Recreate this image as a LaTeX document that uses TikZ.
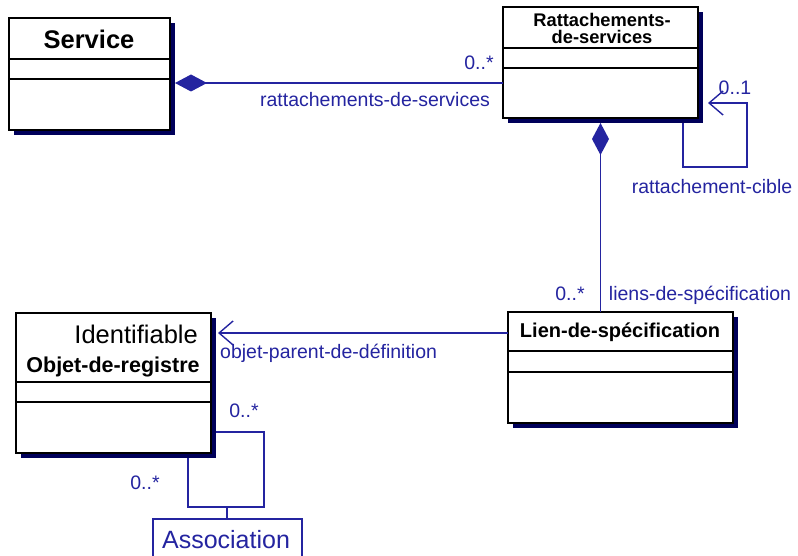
\documentclass[tikz,border=0pt]{standalone}
\usepackage{fontspec}
\setmainfont{Liberation Sans}
\usetikzlibrary{arrows.meta,shadows}
\definecolor{umlblue}{HTML}{2424A0}
\definecolor{umlshadow}{HTML}{00005A}
\tikzset{
  classbox/.style={draw=black,line width=1.8pt,fill=white,inner sep=0pt,outer sep=0pt,
    anchor=north west,
    drop shadow={shadow xshift=5pt,shadow yshift=-5pt,fill=umlshadow,opacity=1}},
  sep/.style={draw=black,line width=1.8pt},
  link/.style={draw=umlblue,line width=1.8pt},
  comp/.style={link,{Diamond[length=32pt,width=17pt,fill=umlblue]}-},
  nav/.style={link,-{Straight Barb[length=14pt,width=24pt,line width=1.4pt]}},
  lbl/.style={text=umlblue,inner sep=0pt,font=\fontsize{19.5}{22}\selectfont},
  ttl/.style={text=black,inner sep=0pt,align=center,font=\bfseries\fontsize{20}{17}\selectfont},
}
\begin{document}
\begin{tikzpicture}[x=1pt,y=-1pt]
\clip (0,0) rectangle (798,556);
\fill[white] (0,0) rectangle (798,556);

% classes
\node[classbox,minimum width=161pt,minimum height=112pt] (service) at (9,18) {};
\node[classbox,minimum width=195pt,minimum height=111pt] (ratt) at (503,7) {};
\node[classbox,minimum width=225pt,minimum height=111pt] (lien) at (508,312) {};
\node[classbox,minimum width=195pt,minimum height=140pt] (objet) at (16,313) {};
\node[draw=umlblue,line width=1.5pt,fill=white,inner sep=0pt,anchor=north west,
      minimum width=149pt,minimum height=50pt] (assoc) at (152,518) {};

% compartments
\draw[sep] ([yshift=-41pt]service.north west) -- ([yshift=-41pt]service.north east);
\draw[sep] ([yshift=-61pt]service.north west) -- ([yshift=-61pt]service.north east);
\draw[sep] ([yshift=-41pt]ratt.north west) -- ([yshift=-41pt]ratt.north east);
\draw[sep] ([yshift=-61pt]ratt.north west) -- ([yshift=-61pt]ratt.north east);
\draw[sep] ([yshift=-39pt]lien.north west) -- ([yshift=-39pt]lien.north east);
\draw[sep] ([yshift=-60pt]lien.north west) -- ([yshift=-60pt]lien.north east);
\draw[sep] ([yshift=-69pt]objet.north west) -- ([yshift=-69pt]objet.north east);
\draw[sep] ([yshift=-89pt]objet.north west) -- ([yshift=-89pt]objet.north east);

% class names
\node[ttl,font=\bfseries\fontsize{25.5}{28}\selectfont] (tservice) at (89,39) {Service};
\node[ttl,font=\bfseries\fontsize{18.3}{17}\selectfont] (tratt) at (602,28) {Rattachements-\\de-services};
\node[ttl] (tlien) at (620,332) {Lien-de-spécification};
\node[ttl,font=\bfseries\fontsize{21.5}{24}\selectfont] (tobjet) at (113,367) {Objet-de-registre};
\node[inner sep=0pt,anchor=east,font=\fontsize{25.5}{28}\selectfont] (tident) at (198,334) {Identifiable};
\node[lbl,font=\fontsize{25}{28}\selectfont] (tassoc) at (226,540) {Association};

% compositions
\draw[comp] ([xshift=5pt,yshift=-9pt]service.east) coordinate (s1) -- (s1 -| ratt.west);
\draw[comp] ([yshift=-5pt]ratt.south) -- (ratt.south |- lien.north);

% navigable associations
\draw[nav] ([xshift=-15pt,yshift=-5pt]ratt.south east) -- ++(0,44) -- ++(64,0) -- ++(0,-64)
  -- ([xshift=10pt,yshift=-40.5pt]ratt.east);
\draw[nav] ([yshift=34.5pt]lien.west) coordinate (l1) -- ([xshift=7pt]l1 -| objet.east);

% reflexive association with association class
\draw[link] ([xshift=5pt,yshift=-49pt]objet.east) -- ++(48,0) -- ++(0,75) coordinate (a1)
  -- ++(-76,0) -- ++(0,-49);
\draw[link] (assoc.north) -- (assoc.north |- a1);

% role names and multiplicities
\node[lbl] (m1) at (479,63) {0..*};
\node[lbl] (r1) at (375,100) {rattachements-de-services};
\node[lbl] (m2) at (735,88) {0..1};
\node[lbl] (r2) at (712,187) {rattachement-cible};
\node[lbl] (m3) at (570,294) {0..*};
\node[lbl] (r3) at (700,295) {liens-de-spécification};
\node[lbl,anchor=west] (r4) at (220,353) {objet-parent-de-définition};
\node[lbl] (m4) at (244,411) {0..*};
\node[lbl] (m5) at (145,483) {0..*};
\end{tikzpicture}
\end{document}
